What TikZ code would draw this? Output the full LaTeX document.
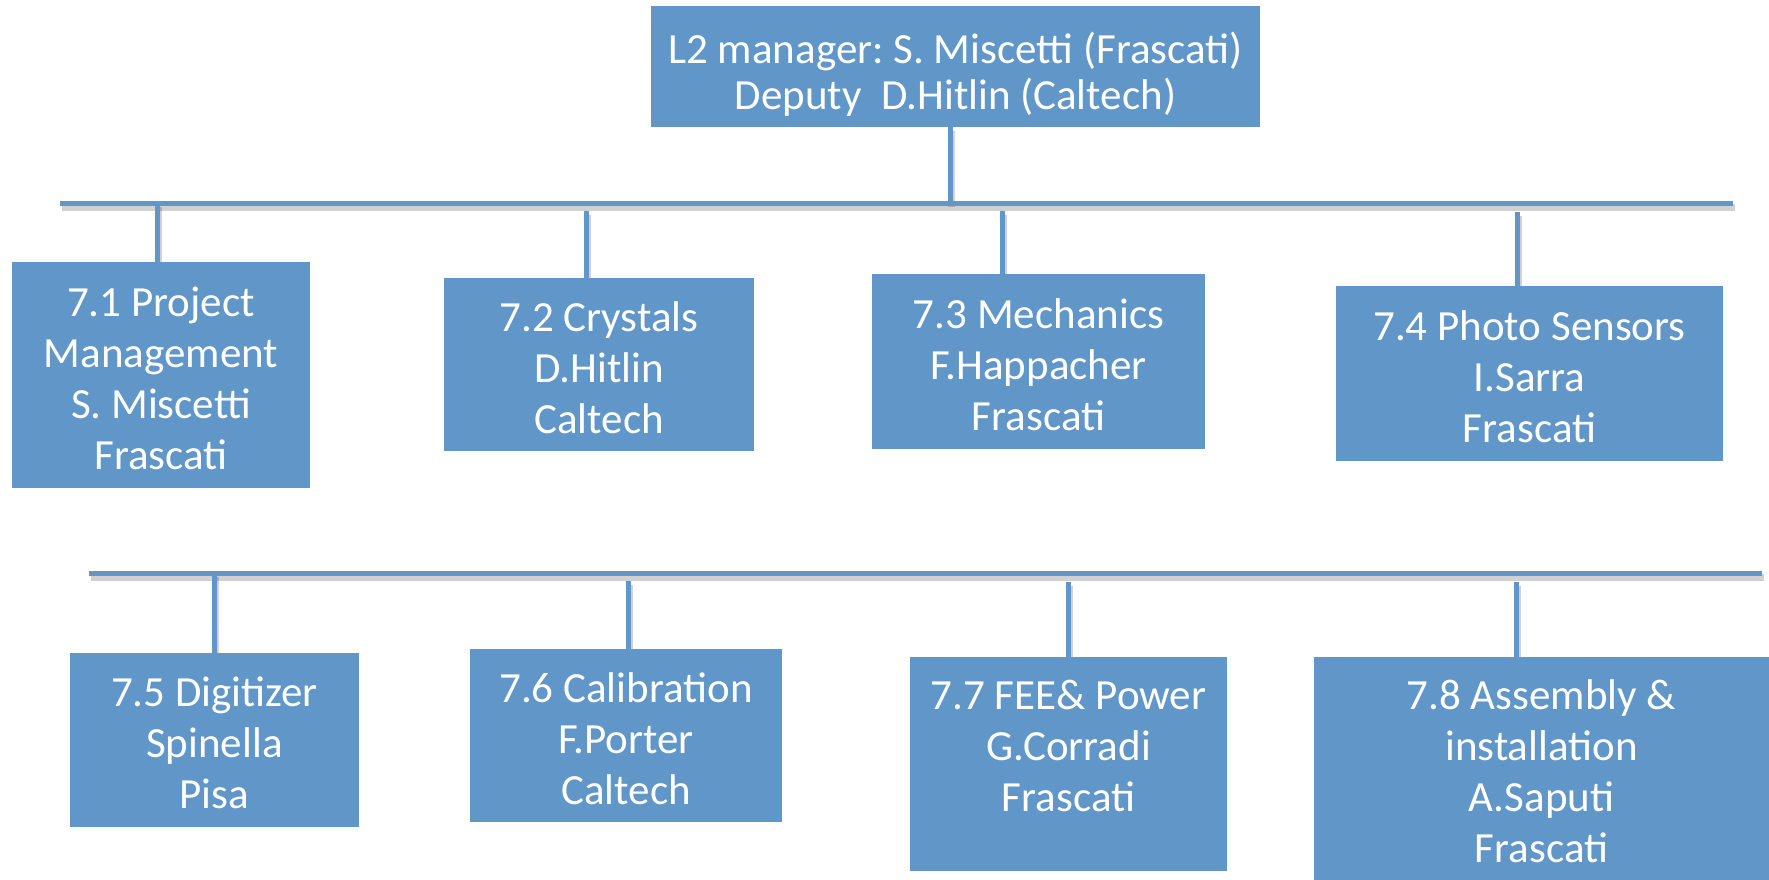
\documentclass[tikz,border=0pt]{standalone}
\usepackage{fontspec}
\setmainfont{Carlito}
\frenchspacing
\definecolor{boxblue}{RGB}{97,150,200}
\pgfdeclarelayer{background}
\pgfsetlayers{background,main}
\newcommand\firststrut{\rule{0pt}{36pt}}
\tikzset{
  box/.style={rectangle, fill=boxblue, text=white, inner sep=0pt, align=center,
    font=\fontsize{43}{51}\selectfont\frenchspacing},
  conn/.style={draw=boxblue, line width=5pt,
    preaction={draw=black, draw opacity=0.18, line width=7pt,
      transform canvas={shift={(1.5pt,-4pt)}}}}
}
\begin{document}
\begin{tikzpicture}[x=1pt,y=1pt]
\useasboundingbox (0,0) rectangle (1769,-880);

\node[box, font=\fontsize{43}{46}\selectfont\frenchspacing, minimum width=609, minimum height=121] (top) at (955.5,-66.5)
  {\mbox{}\\L2 manager: S. Miscetti (Frascati)\\Deputy~~D.Hitlin (Caltech)};

\node[box, minimum width=298, minimum height=226] (b1) at (161,-375)
  {\firststrut 7.1 Project\\Management\\S. Miscetti\\Frascati};
\node[box, minimum width=310, minimum height=173] (b2) at (599,-364.5)
  {\firststrut 7.2 Crystals\\D.Hitlin\\Caltech};
\node[box, minimum width=333, minimum height=175] (b3) at (1038.5,-361.5)
  {\firststrut 7.3 Mechanics\\F.Happacher\\Frascati};
\node[box, minimum width=387, minimum height=175] (b4) at (1529.5,-373.5)
  {\firststrut 7.4 Photo Sensors\\I.Sarra\\Frascati};

\node[box, minimum width=289, minimum height=174] (b5) at (214.5,-740)
  {\firststrut 7.5 Digitizer\\Spinella\\Pisa};
\node[box, minimum width=312, minimum height=173] (b6) at (626,-735.5)
  {\firststrut 7.6 Calibration\\F.Porter\\Caltech};
\node[box, minimum width=317, minimum height=214] (b7) at (1068.5,-764)
  {\firststrut 7.7 FEE\& Power\\G.Corradi\\Frascati\\[-8pt]\mbox{}};
\node[box, minimum width=455, minimum height=223] (b8) at (1541.5,-768.5)
  {\firststrut 7.8 Assembly \&\\installation\\A.Saputi\\Frascati};

\coordinate (bus1L) at (60,-203);
\coordinate (bus1R) at (1733,-203);
\coordinate (t0) at (950,-203);
\coordinate (d1) at (157,-203);
\coordinate (d2) at (586,-211);
\coordinate (d3) at (1002,-211);
\coordinate (d4) at (1517,-212);

\coordinate (bus2L) at (89,-573);
\coordinate (bus2R) at (1762,-573);
\coordinate (d5) at (214,-573);
\coordinate (d6) at (628,-581);
\coordinate (d7) at (1068,-582);
\coordinate (d8) at (1516,-582);

\begin{pgfonlayer}{background}
\draw[conn] (top.south -| t0) -- (t0);
\draw[conn] (bus1L) -- (bus1R);
\draw[conn] (d1) -- (d1 |- b1.north);
\draw[conn] (d2) -- (d2 |- b2.north);
\draw[conn] (d3) -- (d3 |- b3.north);
\draw[conn] (d4) -- (d4 |- b4.north);
\draw[conn] (bus2L) -- (bus2R);
\draw[conn] (d5) -- (d5 |- b5.north);
\draw[conn] (d6) -- (d6 |- b6.north);
\draw[conn] (d7) -- (d7 |- b7.north);
\draw[conn] (d8) -- (d8 |- b8.north);
\end{pgfonlayer}
\end{tikzpicture}
\end{document}
